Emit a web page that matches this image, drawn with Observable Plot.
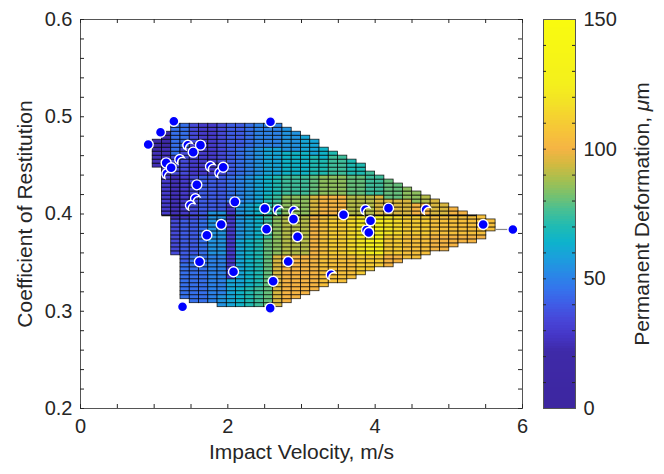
<!DOCTYPE html>
<html>
<head>
<meta charset="utf-8">
<script src="https://cdn.jsdelivr.net/npm/d3@7"></script>
<script src="https://cdn.jsdelivr.net/npm/@observablehq/plot@0.6"></script>
<style>
  body { margin: 0; background: #fff; }
  #fig { position: relative; width: 664px; height: 474px; font-family: "Liberation Sans", Arial, sans-serif; }
  #fig svg { position: absolute; top: 0; }
</style>
</head>
<body>
<div id="fig"></div>
<script>
// Fitted surface grid: column origin / width (m/s), row origin / height (COR)
const gridX0 = 0.98, gridDX = 0.1258;
const gridY0 = 0.3042, gridDY = 0.0041;

// First occupied row of every grid column
const colStartRow = [35, 23, 13, 2, 1, 1, 1, 0, 0, 0, 0, 0, 0, 0, 1, 2, 3, 4, 5, 6, 6, 7, 8, 9, 10, 10, 11, 12, 12, 13, 14, 14, 15, 16, 16, 17, 19];

// Permanent deformation of each cell, column by column, bottom row upward.
// One base-36 digit per cell, in steps of 5 µm.
const colCells = [
  "5555444",
  "666666666655555554444",
  "777777777555555555557777799999999",
  "99999999988888888888666666666667777777999999",
  "999999999999888888888777777777776666666677777",
  "999999999999999999999888888888886666666666666",
  "aaaaaaaaaaaabbbbbbbbbbb8888888886666666666666",
  "bbbaaaaaaaaaabbbbbbbbbbb8888888887777777777777",
  "ccccccc666666666666666666699999998888888888888",
  "dddddccccccccccccbbbbbbbbbaaaaaaa9999999888888",
  "eeeeeddddddddddddcccccccccbbbbbbbaaaaaaa999999",
  "fffffeeeeeeeeeeeedddddddddcccccccbbbbbbbaaaaaa",
  "gggggggggggggggggffffffeeeeedddddcccccccaaaaaa",
  "jjjjjjjjjjjjjhhhhhhhhhhfffffeeeeecccccccaaaaaa",
  "kkkkkkkkkkkkiiiiiiiiiihhhhhfffffddddddbbbbbb",
  "kkkkkkkkkkkiiiiiiiiiihhhhhfffffddddddbbbbb",
  "kkkkkkkkkkiiiiiiiiiihhhhhfffffddddddcccc",
  "kkkkkkkkkkkkkkkkkkkjjjjjgggggeeeeecccc",
  "llllllllllllllllllkkkkkhhhhheeeeddd",
  "lllllllmmmmmmmmmmkkkkkhhhhhfffffe",
  "lllllllmmmmmmmmmmkkkkkhhhhhfffff",
  "llllllnnnnnnnnnniiiiigggggeeee",
  "mmmmmooooooooooiiiiigggggeee",
  "mmmmppppppppppiiiiiffffff",
  "mmmppppppppppjjjjjfffff",
  "kkkmmmmmooooojjjjggggg",
  "kkmmmmmnnnnnjjjjgggg",
  "llllllmmmmmjjjjhhh",
  "llllllmmmmmkkkhhh",
  "lllllmmmmmkkkii",
  "kkkkllllljjjj",
  "kkkkllllljjj",
  "kkklllllkk",
  "kklllllk",
  "kklllll",
  "klllll",
  "lll"
];

// Measured impacts: velocity (m/s) and coefficient of restitution
const hitV = [1.267, 2.579, 1.086, 0.919, 1.629, 1.530, 1.163, 1.231, 1.937, 1.579, 2.095, 2.502, 2.891, 2.525, 1.910, 1.715, 2.946, 3.570, 4.181, 3.937, 3.913, 5.466, 5.869, 1.615, 2.077, 2.819, 2.615, 1.385, 2.575];
const hitE = [0.4954, 0.4948, 0.4841, 0.4715, 0.4708, 0.4636, 0.4526, 0.4475, 0.4481, 0.4300, 0.4125, 0.4057, 0.3947, 0.3844, 0.3892, 0.3782, 0.3766, 0.3992, 0.4060, 0.3930, 0.3810, 0.3892, 0.3841, 0.3509, 0.3406, 0.3512, 0.3309, 0.3046, 0.3032];
// Impacts that sit partly behind the fitted surface
const hidV = [1.348, 1.765, 1.891, 1.172, 1.561, 1.493, 2.683, 2.896, 3.869, 4.692, 3.883, 3.403, 1.457];
const hidE = [0.4560, 0.4488, 0.4424, 0.4413, 0.4156, 0.4088, 0.4043, 0.4029, 0.4043, 0.4046, 0.3834, 0.3375, 0.4707];

// Axis ticks
const xTicks = [0, 2, 4, 6];
const yTicks = [0.2, 0.3, 0.4, 0.5, 0.6];
const xMinor = [0, 0.5, 1, 1.5, 2, 2.5, 3, 3.5, 4, 4.5, 5, 5.5, 6];
const yMinor = [0.2, 0.22, 0.24, 0.26, 0.28, 0.3, 0.32, 0.34, 0.36, 0.38, 0.4, 0.42, 0.44, 0.46, 0.48, 0.5, 0.52, 0.54, 0.56, 0.58, 0.6];
const cbTicks = [0, 50, 100, 150];
const cbMinor = [10, 20, 30, 40, 50, 60, 70, 80, 90, 100, 110, 120, 130, 140];

// Colormap stops (µm -> colour)
const colorStops = [0, 22, 28, 34, 40, 46, 52, 58, 64, 70, 76, 82, 88, 94, 100, 106, 112, 118, 125, 150];
const colorHex = ["#3d26a0", "#3e2aa8", "#4536c6", "#4746d8", "#3f5ce6", "#3474ec", "#2889e6", "#1b9fdc", "#0db3cc", "#1fbbb3", "#45bf96", "#76c16f", "#a6bf4f", "#d3b940", "#f5b444", "#f6c23a", "#f5d131", "#f3e226", "#f4f01c", "#f9fb0e"];

const cbLabel = "Permanent Deformation, μm";
const fontFamily = "'Liberation Sans', Arial, Helvetica, sans-serif";
const ink = "#262626";

// Expand the column strings into grid cells
const cells = [];
colCells.forEach((s, c) => {
  for (let k = 0; k < s.length; k++) {
    const r = colStartRow[c] + k;
    cells.push({
      x1: gridX0 + c * gridDX, x2: gridX0 + (c + 1) * gridDX,
      y1: gridY0 + r * gridDY, y2: gridY0 + (r + 1) * gridDY,
      v: 5 * parseInt(s[k], 36)
    });
  }
});
const hits = hitV.map((v, i) => ({v, e: hitE[i]}));
const hidden = hidV.map((v, i) => ({v, e: hidE[i]}));

// Folded seam of the surface along the bottom of column 1, and the
// collapsed strip joining the tip of the surface to the fastest impact
const seam = [{x1: gridX0 + gridDX, x2: gridX0 + 35 * gridDX, y: gridY0 + colStartRow[1] * gridDY}];
const tipLast = hitV.indexOf(d3.max(hitV));
const tipStrip = [{x1: gridX0 + colCells.length * gridDX, x2: hitV[tipLast], y: hitE[tipLast]}];

// Dot partly covered by the surface: disc minus an offset disc
const crescent = {
  draw(ctx, size) {
    const r = Math.sqrt(size / Math.PI);
    const s = 0.55 * r;
    const a = Math.acos((s * Math.SQRT2) / 2 / r);
    const t = Math.PI / 4;
    ctx.moveTo(r * Math.cos(t + a), r * Math.sin(t + a));
    ctx.arc(0, 0, r, t + a, t + 2 * Math.PI - a);
    ctx.arc(s, s, r, t + Math.PI + a, t + Math.PI - a, true);
    ctx.closePath();
  }
};

const colorScale = {type: "linear", domain: colorStops, range: colorHex, clamp: true};

const main = Plot.plot({
  width: 664, height: 474,
  marginLeft: 80, marginRight: 142, marginTop: 19, marginBottom: 66,
  x: {domain: [0, 6]},
  y: {domain: [0.2, 0.6]},
  color: colorScale,
  style: {fontFamily, fontSize: "20px", color: ink, background: "transparent"},
  marks: [
    Plot.rect(cells, {x1: "x1", x2: "x2", y1: "y1", y2: "y2", fill: "v", stroke: "#000", strokeWidth: 0.8, strokeOpacity: 0.85}),
    Plot.ruleY(seam, {x1: "x1", x2: "x2", y: "y", stroke: "#111", strokeWidth: 1.6}),
    Plot.ruleY(tipStrip, {x1: "x1", x2: "x2", y: "y", stroke: "#888", strokeWidth: 1.2}),
    Plot.dot(hidden, {x: "v", y: "e", r: 5, symbol: crescent, fill: "#0000ff", stroke: "#fff", strokeWidth: 1.4}),
    Plot.dot(hits, {x: "v", y: "e", r: 5, fill: "#0000ff", stroke: "#fff", strokeWidth: 1.4}),
    Plot.frame({stroke: "#555", strokeWidth: 1}),
    Plot.tickX(xMinor, {x: d => d, insetTop: 385, stroke: ink}),
    Plot.tickX(xMinor, {x: d => d, insetBottom: 385, stroke: ink}),
    Plot.tickY(yMinor, {y: d => d, insetRight: 438, stroke: ink}),
    Plot.tickY(yMinor, {y: d => d, insetLeft: 438, stroke: ink}),
    Plot.axisX(xTicks, {tickSize: 0, tickPadding: 10, tickFormat: d => String(d), label: null, fontSize: 20}),
    Plot.axisY(yTicks, {tickSize: 0, tickPadding: 8, tickFormat: d => d.toFixed(1), label: null, fontSize: 20}),
    Plot.text(["Impact Velocity, m/s"], {text: d => d, frameAnchor: "bottom", textAnchor: "middle", dy: 50, fontSize: 21}),
    Plot.text(["Coefficient of Restitution"], {text: d => d, frameAnchor: "left", textAnchor: "middle", dx: -55, rotate: -90, fontSize: 21})
  ]
});

const cbSteps = d3.range(0, 150, 1);
const bar = Plot.plot({
  width: 121, height: 474,
  marginLeft: 0, marginRight: 89, marginTop: 19, marginBottom: 66,
  x: {domain: [0, 1], axis: null},
  y: {domain: [0, 150], axis: null},
  color: colorScale,
  style: {fontFamily, fontSize: "20px", color: ink, background: "transparent", overflow: "visible"},
  marks: [
    Plot.rect(cbSteps, {x1: 0, x2: 1, y1: d => d, y2: d => d + 1, fill: d => d + 0.5, shapeRendering: "crispEdges"}),
    Plot.frame({stroke: "#555", strokeWidth: 1}),
    Plot.tickY(cbMinor, {y: d => d, insetRight: 29, stroke: ink}),
    Plot.tickY(cbMinor, {y: d => d, insetLeft: 29, stroke: ink}),
    Plot.axisY(cbTicks, {anchor: "right", tickSize: 0, tickPadding: 8, label: null, fontSize: 20}),
    Plot.text([cbLabel], {text: d => d, frameAnchor: "right", textAnchor: "middle", dx: 67, rotate: -90, fontSize: 21})
  ]
});

const fig = document.getElementById("fig");
main.style.left = "0px";
bar.style.left = "543px";
fig.append(main, bar);

// Greek mu in the unit is set in italics
d3.select(bar).selectAll("text")
  .filter(function () { return this.textContent === cbLabel; })
  .each(function () {
    const t = d3.select(this);
    t.text(null);
    t.append("tspan").text("Permanent Deformation, ");
    t.append("tspan").attr("font-style", "italic").text("μ");
    t.append("tspan").text("m");
  });
</script>
</body>
</html>
